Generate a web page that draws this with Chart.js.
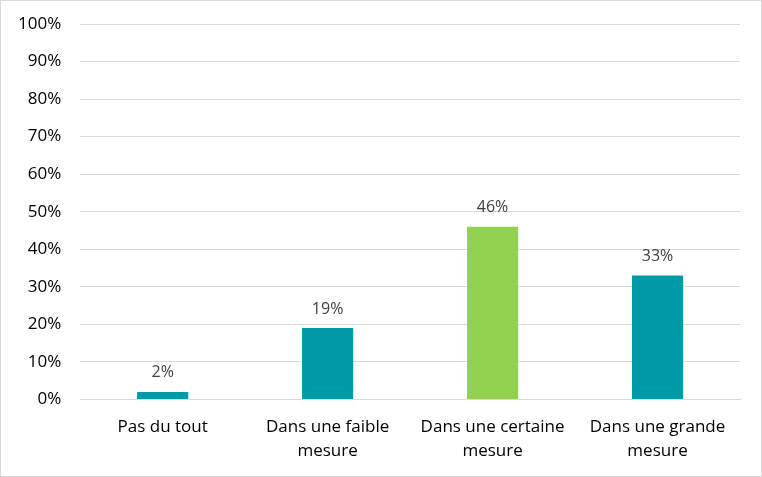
<!DOCTYPE html>
<html>
<head>
<meta charset="utf-8">
<script src="https://cdn.jsdelivr.net/npm/chart.js@4.4.0/dist/chart.umd.min.js"></script>
<style>
  html, body { margin: 0; padding: 0; background: #fff; }
  #wrap { position: relative; width: 760px; height: 475px; border: 1px solid #d9d9d9; }
</style>
</head>
<body>
<div id="wrap"><canvas id="chart"></canvas></div>
<script>
// Données du graphique
const categories = [
    'Pas du tout',
    ['Dans une faible', 'mesure'],
    ['Dans une certaine', 'mesure'],
    ['Dans une grande', 'mesure']
];
const values = [2, 19, 46, 33];
const barColors = ['#0099A8', '#0099A8', '#92D050', '#0099A8'];
const yTicks = [0, 10, 20, 30, 40, 50, 60, 70, 80, 90, 100];

const fontFamily = "'Open Sans', 'Liberation Sans', sans-serif";

// Étiquettes de valeur au-dessus des barres
const valueLabels = {
    id: 'valueLabels',
    afterDatasetsDraw(chart) {
        const ctx = chart.ctx;
        const meta = chart.getDatasetMeta(0);
        ctx.save();
        ctx.fillStyle = '#404040';
        ctx.font = '16px ' + fontFamily;
        ctx.textAlign = 'center';
        ctx.textBaseline = 'middle';
        meta.data.forEach((bar, i) => {
            ctx.fillText(values[i] + '%', bar.x, bar.y - 19);
        });
        ctx.restore();
    }
};

new Chart(document.getElementById('chart'), {
    type: 'bar',
    data: {
        labels: categories,
        datasets: [{
            data: values,
            backgroundColor: barColors,
            categoryPercentage: 1,
            barPercentage: 0.31
        }]
    },
    options: {
        responsive: true,
        maintainAspectRatio: false,
        animation: false,
        layout: { padding: { top: 23, left: -2, right: 21, bottom: -3 } },
        plugins: {
            legend: { display: false },
            tooltip: { enabled: false }
        },
        scales: {
            y: {
                min: 0,
                max: 100,
                afterBuildTicks(axis) {
                    axis.ticks = yTicks.map(v => ({ value: v }));
                },
                afterFit(axis) {
                    // la marge haute est fixée par layout.padding
                    axis.paddingTop = 0;
                },
                ticks: {
                    callback: v => v + '%',
                    color: '#000',
                    padding: 19,
                    font: { size: 17, family: fontFamily }
                },
                grid: { color: '#d9d9d9', drawTicks: false },
                border: { display: false }
            },
            x: {
                ticks: {
                    color: '#000',
                    padding: 16,
                    maxRotation: 0,
                    autoSkip: false,
                    font: { size: 17, family: fontFamily, lineHeight: 1.4 }
                },
                grid: { display: false, drawTicks: false },
                border: { display: true, color: '#d9d9d9' }
            }
        }
    },
    plugins: [valueLabels]
});
</script>
</body>
</html>
